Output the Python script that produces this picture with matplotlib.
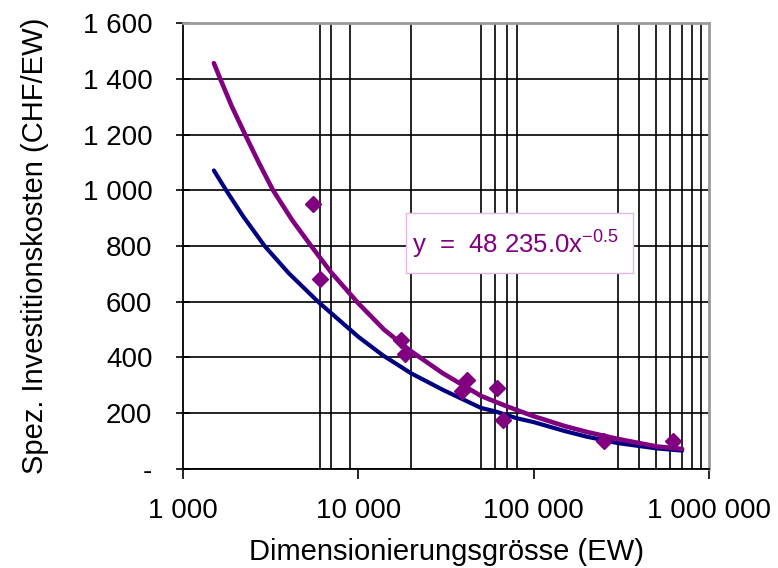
import matplotlib
matplotlib.use("Agg")
import matplotlib.pyplot as plt
from matplotlib.patches import Rectangle
from matplotlib.ticker import FixedLocator, FuncFormatter

plt.rcParams['font.family'] = ['Liberation Sans', 'DejaVu Sans']

# trend line (power fit), x in EW, y in CHF/EW
fit_x = [1500, 1630, 1900, 2300, 2700, 3260, 4200, 5380, 7000, 10000, 14000, 20000,
         30000, 50000, 70000, 100000, 150000, 200000, 300000, 500000, 700000]
fit_y = [1456, 1400, 1300, 1190, 1100, 1000, 892, 800, 705, 594, 500, 422,
         345, 262, 225, 189, 154, 133, 108, 81, 72]

# second cost curve (dark blue)
ref_x = [1500, 1770, 2200, 2920, 4000, 5890, 10000, 13840, 20000, 30500,
         50000, 60000, 80000, 100000, 150000, 200000, 300000, 500000, 700000]
ref_y = [1071, 998, 907, 800, 703, 600, 474, 407, 343, 283,
         219, 207, 182, 168, 136, 116, 93, 74, 66]

# measured plants
pts_x = [5500, 6000, 17500, 18500, 41500, 39000, 62000, 67000, 250000, 625000]
pts_y = [950, 682, 462, 412, 321, 279, 291, 174, 99, 99]

grid_x = [6000, 7000, 9000, 10000, 20000, 50000, 60000, 70000, 80000,
          100000, 300000, 400000, 500000, 600000, 700000, 800000, 900000]
y_ticks = [0, 200, 400, 600, 800, 1000, 1200, 1400, 1600]
x_ticks = [1000, 10000, 100000, 1000000]

purple = '#800080'
navy = '#000080'


def fmt(v, pos=None):
    if v == 0:
        return '-'
    return f'{int(round(v)):,}'.replace(',', ' ')


fig = plt.figure(figsize=(7.78, 5.68), dpi=100)
ax = fig.add_axes([0.2352, 0.1743, 0.6765, 0.7852])

ax.plot(ref_x, ref_y, color=navy, lw=3, zorder=3, solid_capstyle='round')
ax.plot(fit_x, fit_y, color=purple, lw=3.3, zorder=4, solid_capstyle='round')
ax.plot(pts_x, pts_y, ls='none', marker='D', ms=8.5, color=purple, zorder=5)

ax.set_xscale('log')
ax.set_xlim(1000, 1000000)
ax.set_ylim(0, 1600)

ax.xaxis.set_major_locator(FixedLocator(x_ticks))
ax.xaxis.set_minor_locator(FixedLocator(grid_x))
ax.xaxis.set_major_formatter(FuncFormatter(fmt))
ax.xaxis.set_minor_formatter(FuncFormatter(lambda v, p: ''))
ax.set_yticks(y_ticks)
ax.yaxis.set_major_formatter(FuncFormatter(fmt))

ax.grid(True, axis='y', which='major', color='black', lw=1.2, zorder=1)
ax.grid(True, axis='x', which='minor', color='black', lw=1.2, zorder=1)
ax.set_axisbelow(True)

ax.tick_params(axis='x', which='major', direction='out', length=7, width=1.2,
               labelsize=20, pad=14)
ax.tick_params(axis='x', which='minor', length=0)
ax.tick_params(axis='y', which='major', direction='inout', length=10, width=1.2,
               labelsize=20, pad=17)

for s in ('left', 'bottom'):
    ax.spines[s].set_color('black')
    ax.spines[s].set_linewidth(1.3)
for s in ('top', 'right'):
    ax.spines[s].set_color('#9a9a9a')
    ax.spines[s].set_linewidth(2)

ax.set_xlabel('Dimensionierungsgrösse (EW)', fontsize=21, labelpad=10)
ax.set_ylabel('Spez. Investitionskosten (CHF/EW)', fontsize=21, labelpad=24)

# equation label of the trend line
ax.add_patch(Rectangle((0.4234, 0.4388), 0.431, 0.1359, transform=ax.transAxes,
                       facecolor='white', edgecolor='#e4b8e4', lw=1, zorder=6))
ax.text(0.436, 0.505, r'y  =  48 235.0x$^{\mathregular{-0.5}}$', transform=ax.transAxes,
        color=purple, fontsize=18.5, va='center', ha='left', zorder=7)

fig.savefig('out.png', dpi=100)
